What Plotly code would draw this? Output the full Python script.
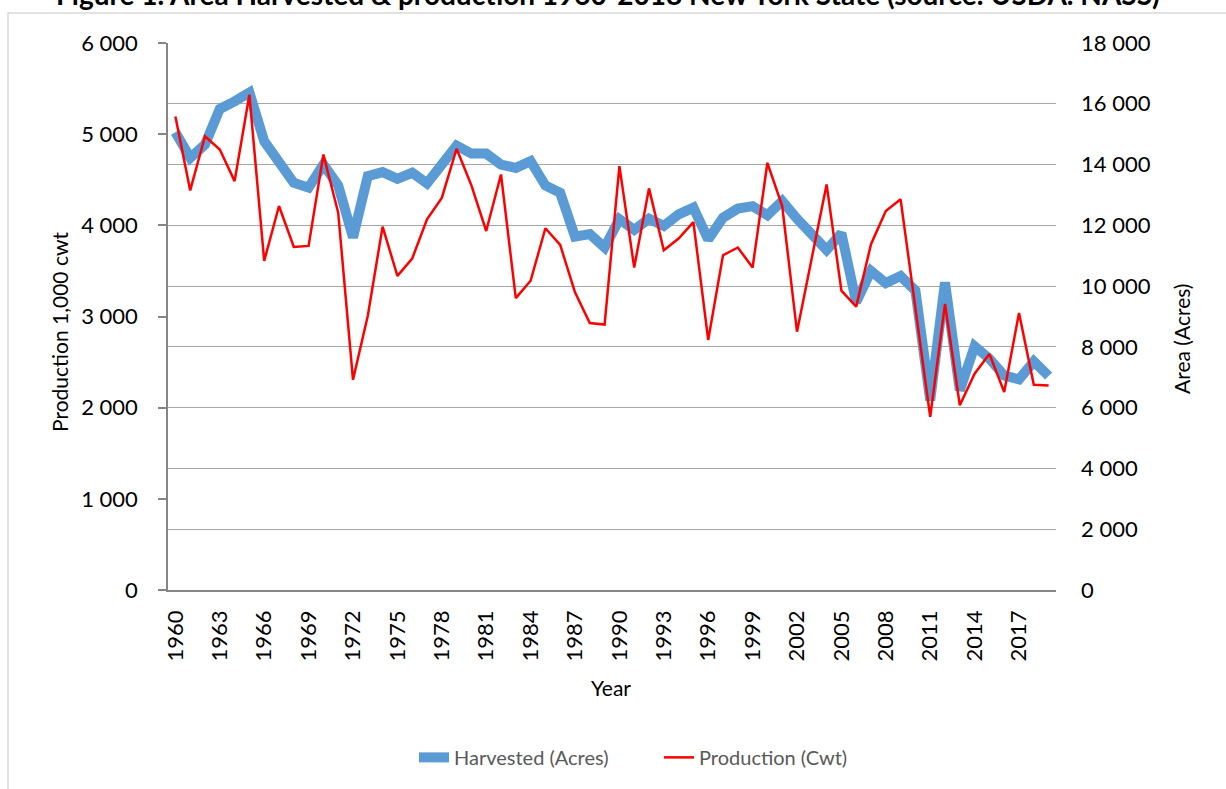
import plotly.graph_objects as go

# Years on the category axis
years = list(range(1960, 2020))

# Area harvested, acres (right axis)
harvested_acres = [
    15060, 14220, 14660, 15830, 16080, 16370, 14770, 14060, 13400, 13240,
    14000, 13310, 11600, 13620, 13750, 13530, 13730, 13380, 14000, 14620,
    14360, 14360, 14000, 13890, 14110, 13310, 13070, 11630, 11710, 11270,
    12200, 11850, 12220, 11980, 12360, 12580, 11540, 12250, 12550, 12630,
    12330, 12800, 12220, 11650, 11190, 11740, 9470, 10500, 10100, 10330,
    9850, 6240, 10120, 6570, 8020, 7610, 7060, 6930, 7520, 7040,
]

# Production, 1,000 cwt (left axis)
production_cwt = [
    5195, 4383, 4977, 4831, 4485, 5432, 3610, 4212, 3763, 3774,
    4777, 4139, 2306, 3009, 3986, 3446, 3636, 4066, 4300, 4840,
    4438, 3938, 4558, 3202, 3392, 3968, 3785, 3265, 2929, 2911,
    4649, 3538, 4405, 3727, 3855, 4036, 2743, 3672, 3757, 3538,
    4686, 4212, 2834, 3650, 4449, 3283, 3108, 3793, 4157, 4285,
    3100, 1899, 3137, 2026, 2372, 2590, 2172, 3039, 2252, 2244,
]

tick_years = years[::3]

FONT = "Lato, 'Open Sans', sans-serif"
GRID = "#a6a6a6"
AXIS = "#868686"

fig = go.Figure()

fig.add_trace(go.Scatter(
    x=years, y=harvested_acres, name="Harvested (Acres)",
    mode="lines", yaxis="y",
    line=dict(color="#5b9bd5", width=10, shape="linear"),
))
fig.add_trace(go.Scatter(
    x=years, y=production_cwt, name="Production (Cwt)",
    mode="lines", yaxis="y2",
    line=dict(color="#ff0000", width=2.5),
))

fig.update_layout(
    width=1226, height=789,
    margin=dict(l=168, r=170, t=43, b=197),
    paper_bgcolor="white", plot_bgcolor="white",
    separators=". ",
    font=dict(family=FONT, size=22, color="#000000"),
    showlegend=True,
    legend=dict(
        orientation="h", x=(414 - 168) / 888, xanchor="left",
        y=-0.306, yanchor="middle",
        font=dict(size=20, color="#595959"), traceorder="normal",
        entrywidth=200, entrywidthmode="pixels",
    ),
    xaxis=dict(
        range=[1959.5, 2019.5], tickmode="array", tickvals=tick_years,
        ticktext=[str(y) for y in tick_years], tickangle=-90,
        showline=True, linecolor=AXIS, linewidth=1.5, ticks="",
        showgrid=False, zeroline=False, ticklabelstandoff=10,
        tickfont=dict(size=22),
    ),
    yaxis=dict(
        side="right", range=[0, 18000], dtick=2000, tickformat=",d",
        showgrid=True, gridcolor=GRID, gridwidth=1.2, zeroline=False,
        showline=False, ticks="", ticklabelstandoff=24,
        tickfont=dict(size=22),
    ),
    yaxis2=dict(
        side="left", overlaying="y", range=[0, 6000], dtick=1000,
        tickformat=",d", showgrid=False, zeroline=False,
        showline=True, linecolor=AXIS, linewidth=1.5,
        ticks="outside", ticklen=8, tickcolor=AXIS, tickwidth=1.5,
        ticklabelstandoff=16,
        tickfont=dict(size=22),
    ),
    shapes=[
        dict(type="rect", xref="paper", yref="paper",
             x0=(8 - 168) / 888, x1=(1240 - 168) / 888,
             y0=(592 - 800) / 549, y1=1 + (43 - 13) / 549,
             line=dict(color="#d9d9d9", width=1.5), fillcolor="rgba(0,0,0,0)",
             layer="below"),
    ],
    annotations=[
        dict(text="<b>Figure 1. Area Harvested &amp; production 1960-2018 New York State (source: USDA. NASS)</b>",
             xref="paper", yref="paper", x=(608 - 168) / 888, y=1 + (43 - 13) / 549,
             xanchor="center", yanchor="bottom", showarrow=False,
             font=dict(size=28, color="#000000")),
        dict(text="Production 1,000 cwt", xref="paper", yref="paper",
             x=(60 - 168) / 888, y=(592 - 333) / 549, textangle=-90,
             xanchor="center", yanchor="middle", showarrow=False,
             font=dict(size=21)),
        dict(text="Area (Acres)", xref="paper", yref="paper",
             x=(1182 - 168) / 888, y=(592 - 340) / 549, textangle=-90,
             xanchor="center", yanchor="middle", showarrow=False,
             font=dict(size=21)),
        dict(text="Year", xref="paper", yref="paper",
             x=(611 - 168) / 888, y=(592 - 690) / 549,
             xanchor="center", yanchor="middle", showarrow=False,
             font=dict(size=21)),
    ],
)

fig.write_html("out.html")
